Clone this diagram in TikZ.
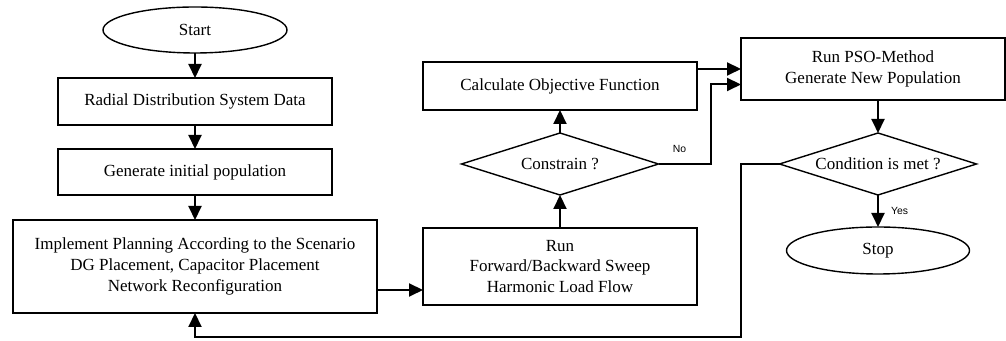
\documentclass[tikz,border=0pt]{standalone}
\usepackage{fontspec}
\setmainfont{Liberation Serif}
\newfontfamily\branchfont{Liberation Sans}
\usetikzlibrary{arrows.meta,
positioning,
shapes.geometric,
calc}

\begin{document}
\begin{tikzpicture}[
				x=1pt, y=1pt,
				font=\fontsize{8.5}{10.4}\selectfont,
				process/.style={
					draw,
					minimum width=137pt,
					minimum height=23.5pt,
					align=center,
					inner sep=2pt,
					outer sep=0pt,
					line width=0.7pt
				},
				terminal/.style={
					draw,
					ellipse,
					minimum width=92pt,
					minimum height=23pt,
					inner sep=1pt,
					outer sep=0pt,
					line width=0.7pt
				},
				decision/.style={
					draw,
					diamond,
					aspect=3,
					minimum width=98.5pt,
					minimum height=31pt,
					inner sep=0pt,
					outer sep=0pt,
					line width=0.7pt
				},
				flow/.style={line width=1pt, -{Triangle[length=7pt,width=6.5pt]}},
				branch/.style={font=\branchfont\fontsize{5.2}{6}\selectfont, inner sep=1pt}
				]
				\useasboundingbox (0,0) rectangle (503,170.5);
				
				\node[terminal] (start) at (97.5,155.5) {Start};
				\node[process, below=12.5pt of start] (sysdata) {Radial Distribution System Data};
				\node[process, minimum height=23pt, below=12pt of sysdata] (initpop) {Generate initial population};
				\node[process, minimum width=182pt, minimum height=46.5pt, below=12.5pt of initpop] (planning) {Implement Planning According to the Scenario\\DG Placement, Capacitor Placement\\Network Reconfiguration};
				
				\node[process, minimum height=38.5pt, right=23pt of planning] (loadflow) {Run\\Forward/Backward Sweep\\Harmonic Load Flow};
				\node[decision, above=16.5pt of loadflow] (constrain) {Constrain ?};
				\node[process, minimum height=24pt, above=11.5pt of constrain] (objective) {Calculate Objective Function};
				
				\node[process, minimum width=132pt, minimum height=31pt] (pso) at (436.5,136) {Run PSO-Method\\Generate New Population};
				\node[decision] (condition) at (439,88.5) {Condition is met ?};
				\node[terminal, minimum width=91.5pt, minimum height=23.5pt, below=16pt of condition] (stop) {Stop};
				
				\coordinate (loopbottom) at (0,2);
				
				\draw[flow] (start) -- (sysdata);
				\draw[flow] (sysdata) -- (initpop);
				\draw[flow] (initpop) -- (planning);
				\draw[flow] ([yshift=-11.75pt]planning.east) -- ([yshift=-11.75pt]planning.east -| loadflow.west);
				\draw[flow] (loadflow) -- (constrain);
				\draw[flow] (constrain) -- (objective);
				\draw[flow] (objective.east |- pso.west) -- (pso.west);
				\draw[flow] (constrain.east) -| node[branch, pos=0.2, above=4pt] {No} ([xshift=-15pt,yshift=-7.75pt]pso.west) -- ([yshift=-7.75pt]pso.west);
				\draw[flow] (pso.south -| condition.north) -- (condition.north);
				\draw[flow] (condition) -- node[branch, right=5pt] {Yes} (stop);
				\draw[flow] (condition.west) -- (condition.west -| pso.west) |- (loopbottom -| planning.south) -- (planning.south);
			\end{tikzpicture}
\end{document}
